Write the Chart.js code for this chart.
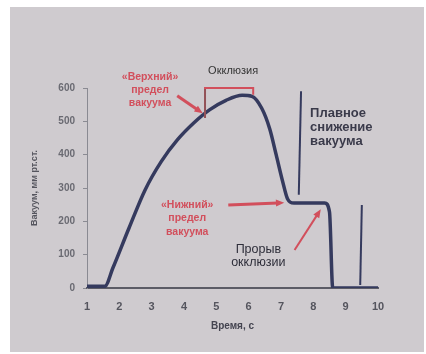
<!DOCTYPE html>
<html>
<head>
<meta charset="utf-8">
<script src="https://cdn.jsdelivr.net/npm/chart.js@4"></script>
<style>
  html, body { margin: 0; padding: 0; background: #fff; }
  #wrap { width: 426px; height: 354px; }
</style>
</head>
<body>
<div id="wrap"><canvas id="grafica" width="426" height="354"></canvas></div>
<script>
// Время, с
const vremya = [1, 1.55, 1.8, 2.3, 2.8, 3.3, 3.8, 4.3, 4.8, 5.3, 5.8, 6.1, 6.4, 6.65, 6.85, 7.05, 7.2, 7.4, 8.35, 8.5, 8.6, 10];
// Вакуум, мм рт.ст.
const vakuum = [5, 5, 60, 180, 295, 380, 445, 495, 535, 563, 578, 575, 540, 478, 400, 320, 268, 255, 255, 228, 0, 0];
const xTicks = [1, 2, 3, 4, 5, 6, 7, 8, 9, 10];
const yTicks = [0, 100, 200, 300, 400, 500, 600];

const rojo = '#d24f5c';
const oscuro = '#353a5e';
const fuente = '"Liberation Sans", Arial, sans-serif';

// fondo de la foto (papel gris)
const fondo = {
  id: 'fondo',
  beforeDraw(chart) {
    const c = chart.ctx;
    c.save();
    c.fillStyle = '#ffffff';
    c.fillRect(0, 0, chart.width, chart.height);
    c.fillStyle = '#cfcbcf';
    c.fillRect(10, 7, 414, 345);
    c.restore();
  }
};

function flecha(c, x1, y1, x2, y2, color, w) {
  const ang = Math.atan2(y2 - y1, x2 - x1);
  const L = 9;
  c.strokeStyle = color;
  c.fillStyle = color;
  c.lineWidth = w;
  c.beginPath();
  c.moveTo(x1, y1);
  c.lineTo(x2 - Math.cos(ang) * L * 0.7, y2 - Math.sin(ang) * L * 0.7);
  c.stroke();
  c.beginPath();
  c.moveTo(x2, y2);
  c.lineTo(x2 - L * Math.cos(ang - 0.4), y2 - L * Math.sin(ang - 0.4));
  c.lineTo(x2 - L * Math.cos(ang + 0.4), y2 - L * Math.sin(ang + 0.4));
  c.closePath();
  c.fill();
}

function texto(c, lineas, x, y, alto, color, font, align) {
  c.fillStyle = color;
  c.font = font;
  c.textAlign = align || 'center';
  c.textBaseline = 'middle';
  lineas.forEach((t, i) => c.fillText(t, x, y + i * alto));
}

// Anotaciones: posiciones en unidades de los ejes
const notas = {
  id: 'notas',
  afterDatasetsDraw(chart) {
    const c = chart.ctx;
    const X = v => chart.scales.x.getPixelForValue(v);
    const Y = v => chart.scales.y.getPixelForValue(v);
    c.save();

    // «Верхний» предел вакуума
    texto(c, ['«Верхний»', 'предел', 'вакуума'], X(2.95), Y(634), 13, rojo, 'bold 10.5px ' + fuente);
    flecha(c, X(3.79), Y(577), X(4.58), Y(524), rojo, 3);

    // скобка окклюзии
    c.strokeStyle = rojo;
    c.lineWidth = 2;
    c.beginPath();
    c.moveTo(X(4.65), Y(510));
    c.lineTo(X(4.65), Y(600));
    c.lineTo(X(6.14), Y(600));
    c.lineTo(X(6.14), Y(580));
    c.stroke();
    c.strokeStyle = '#555';
    c.lineWidth = 1;
    c.beginPath();
    c.moveTo(X(4.65), Y(510));
    c.lineTo(X(4.65), Y(597));
    c.stroke();
    texto(c, ['Окклюзия'], X(5.52), Y(650), 12, '#333', '11px ' + fuente);

    // Плавное снижение вакуума
    c.strokeStyle = oscuro;
    c.lineWidth = 2;
    c.beginPath();
    c.moveTo(X(7.62), Y(590));
    c.lineTo(X(7.55), Y(280));
    c.stroke();
    texto(c, ['Плавное', 'снижение', 'вакуума'], X(7.9), Y(525), 14, '#3a3a4a', 'bold 13px ' + fuente, 'left');

    // «Нижний» предел вакуума
    texto(c, ['«Нижний»', 'предел', 'вакуума'], X(4.1), Y(249), 13.5, rojo, 'bold 10.5px ' + fuente);
    flecha(c, X(5.37), Y(249), X(7.1), Y(256), rojo, 3);

    // Прорыв окклюзии
    texto(c, ['Прорыв', 'окклюзии'], X(6.3), Y(114), 13, '#2e2e3a', '12.5px ' + fuente);
    flecha(c, X(7.42), Y(114), X(8.23), Y(236), rojo, 2);

    c.strokeStyle = oscuro;
    c.lineWidth = 2;
    c.beginPath();
    c.moveTo(X(9.5), Y(249));
    c.lineTo(X(9.45), Y(9));
    c.stroke();

    c.restore();
  }
};

new Chart(document.getElementById('grafica'), {
  type: 'scatter',
  data: {
    datasets: [{
      label: 'Вакуум',
      data: vremya.map((t, i) => ({ x: t, y: vakuum[i] })),
      showLine: true,
      borderColor: oscuro,
      borderWidth: 3.5,
      pointRadius: 0,
      cubicInterpolationMode: 'monotone',
      borderCapStyle: 'round',
      borderJoinStyle: 'round'
    }]
  },
  options: {
    responsive: false,
    animation: false,
    events: [],
    layout: { padding: { left: 7, right: 48, top: 88, bottom: 16 } },
    plugins: { legend: { display: false }, tooltip: { enabled: false } },
    scales: {
      x: {
        type: 'linear',
        min: 1,
        max: 10,
        afterFit: s => { s.height = 50; },
        afterBuildTicks: s => { s.ticks = xTicks.map(v => ({ value: v })); },
        grid: { display: false, drawTicks: false },
        border: { color: '#5c5c66', width: 2 },
        ticks: { padding: 12, color: '#55555e', font: { family: fuente, size: 11, weight: 'bold' } },
        title: { display: true, text: 'Время, с', color: '#444450', padding: { top: 2, bottom: 6 }, font: { family: fuente, size: 10, weight: 'bold' } }
      },
      y: {
        min: 0,
        max: 600,
        afterFit: s => { s.width = 80; },
        afterBuildTicks: s => { s.ticks = yTicks.map(v => ({ value: v })); },
        grid: { display: true, drawOnChartArea: false, tickLength: 4, color: '#8a8a92' },
        border: { color: '#8a8a92', width: 1 },
        ticks: { padding: 8, color: '#6a6a72', font: { family: fuente, size: 10, weight: 'bold' } },
        title: { display: true, text: 'Вакуум, мм рт.ст.', color: '#55555e', padding: { top: 22, bottom: 0 }, font: { family: fuente, size: 9, weight: 'bold' } }
      }
    }
  },
  plugins: [fondo, notas]
});
</script>
</body>
</html>
